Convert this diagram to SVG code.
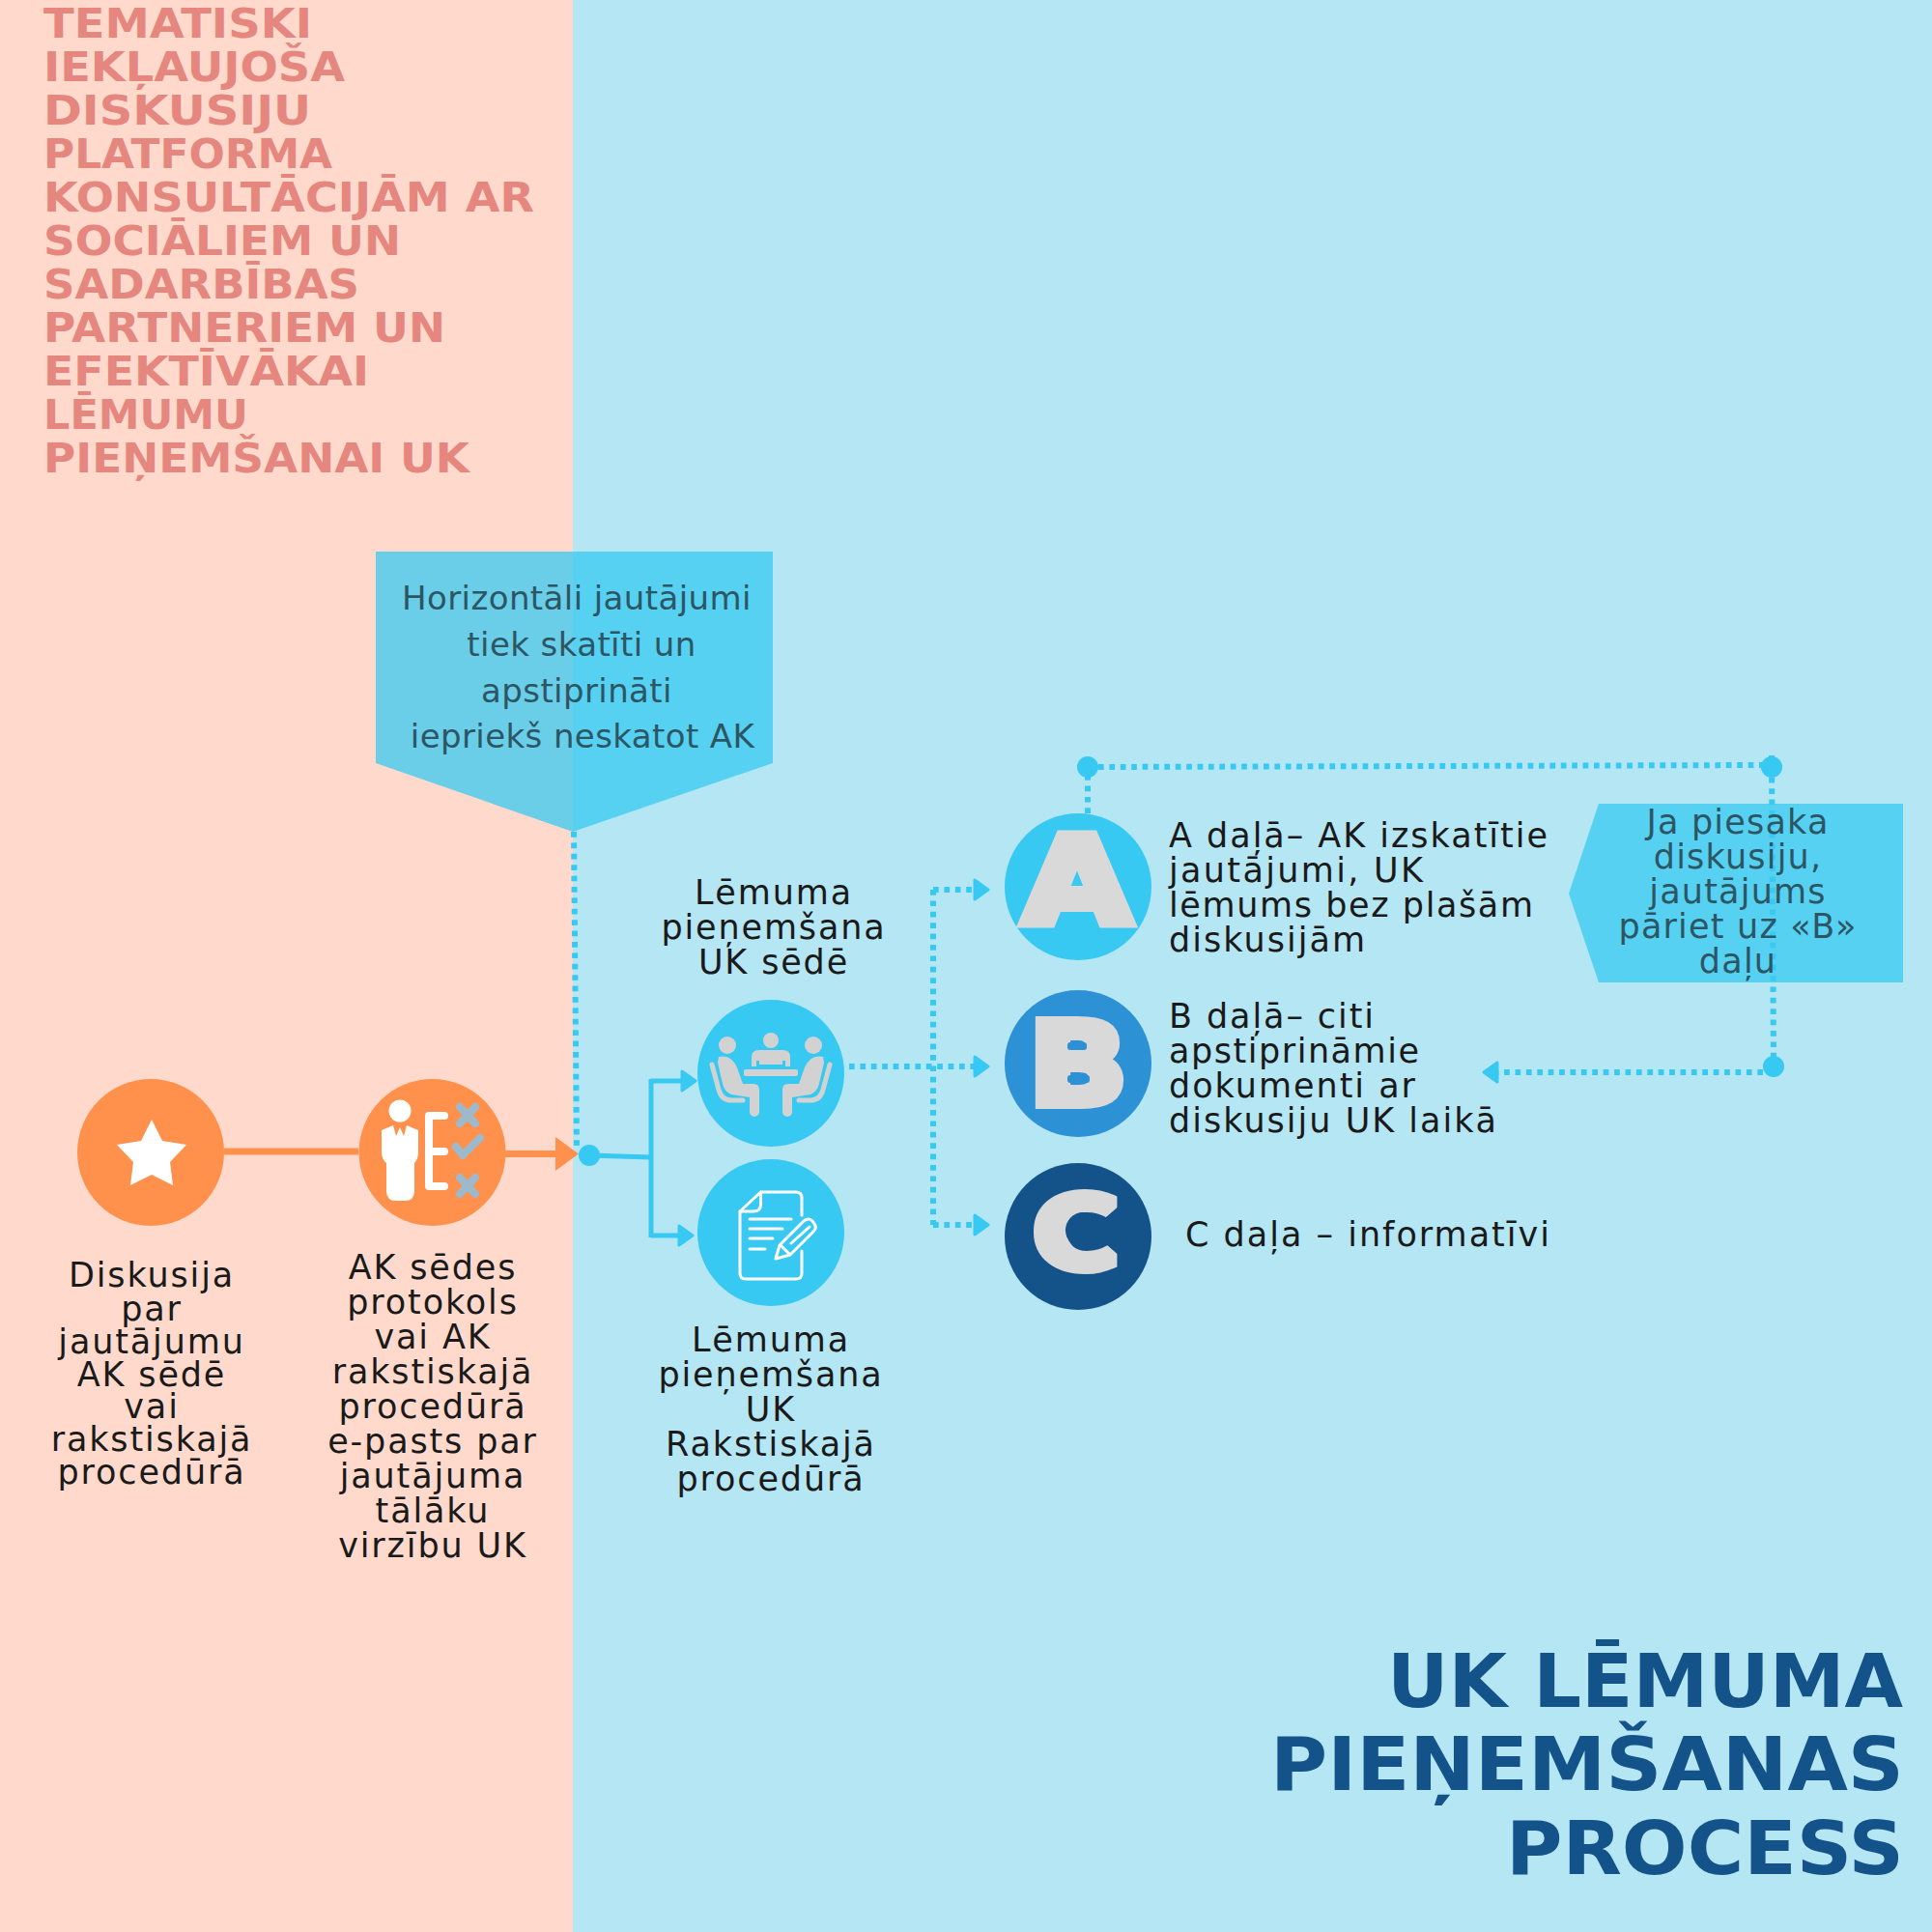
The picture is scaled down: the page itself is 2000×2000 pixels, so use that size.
<svg xmlns="http://www.w3.org/2000/svg" width="2000" height="2000" viewBox="0 0 2000 2000">
<style>
text{font-family:"DejaVu Sans","Liberation Sans",sans-serif}
.lbl{font-size:35px;letter-spacing:1.85px;fill:#1a1a1a;text-anchor:middle}
.side{font-size:35px;fill:#1a1a1a}
.call{font-size:34px;letter-spacing:.4px;fill:#2c5664;text-anchor:middle}
.callr{font-size:35px;letter-spacing:1.2px;fill:#2c5664;text-anchor:middle}
.ttl{font-size:43px;font-weight:700;fill:#e5877f}
.big{font-size:77px;font-weight:700;fill:#14528a}
.dot{stroke:#38c9f2;stroke-width:6;fill:none;stroke-dasharray:5.7 5.7}
.sol{stroke:#38c9f2;stroke-width:5;fill:none}
.hub{fill:#38c9f2}
.callout{fill:#38c9f2;fill-opacity:.75}
.ltr{font-weight:700;fill:#d9d9d9;stroke:#d9d9d9;stroke-linejoin:miter;text-anchor:middle}
.g{fill:#d2d2d2}
.gs{fill:none;stroke:#d2d2d2;stroke-width:5;stroke-linecap:round;stroke-linejoin:round}
.ws{fill:none;stroke:#fff;stroke-width:3;stroke-linecap:round;stroke-linejoin:round}
.xs{fill:none;stroke:#9db9cc;stroke-width:8;stroke-linecap:round;stroke-linejoin:round}
</style>
<defs>
<marker id="ah" markerUnits="userSpaceOnUse" markerWidth="22" markerHeight="28" refX="1" refY="14" orient="auto" viewBox="0 0 22 28"><path d="M2,4 L16,14 L2,24 Z" fill="#38c9f2" stroke="#38c9f2" stroke-width="3" stroke-linejoin="round"/></marker>
<marker id="ao" markerUnits="userSpaceOnUse" markerWidth="28" markerHeight="38" refX="1" refY="19" orient="auto" viewBox="0 0 28 38"><path d="M1,1.500 L25,19 L1,36.500 Z" fill="#ff914d"/></marker>
</defs>
<rect x="0" y="0" width="593" height="2000" fill="#ffdacc"/>
<rect x="593" y="0" width="1407" height="2000" fill="#b5e6f4"/>

<g id="title-left" class="ttl">
<text x="45" y="39" textLength="278" lengthAdjust="spacingAndGlyphs">TEMATISKI</text>
<text x="45" y="84" textLength="312" lengthAdjust="spacingAndGlyphs">IEKĻAUJOŠA</text>
<text x="45" y="129" textLength="277" lengthAdjust="spacingAndGlyphs">DISKUSIJU</text>
<text x="45" y="174" textLength="299" lengthAdjust="spacingAndGlyphs">PLATFORMA</text>
<text x="45" y="219" textLength="508" lengthAdjust="spacingAndGlyphs">KONSULTĀCIJĀM AR</text>
<text x="45" y="264" textLength="370" lengthAdjust="spacingAndGlyphs">SOCIĀLIEM UN</text>
<text x="45" y="309" textLength="327" lengthAdjust="spacingAndGlyphs">SADARBĪBAS</text>
<text x="45" y="354" textLength="416" lengthAdjust="spacingAndGlyphs">PARTNERIEM UN</text>
<text x="45" y="399" textLength="337" lengthAdjust="spacingAndGlyphs">EFEKTĪVĀKAI</text>
<text x="45" y="444" textLength="212" lengthAdjust="spacingAndGlyphs">LĒMUMU</text>
<text x="45" y="489" textLength="441" lengthAdjust="spacingAndGlyphs">PIEŅEMŠANAI UK</text>
</g>

<g id="connectors">
<path d="M232,1192H371" stroke="#ff914d" stroke-width="7" fill="none"/>
<path d="M523,1194.500H575" stroke="#ff914d" stroke-width="7" fill="none" marker-end="url(#ao)"/>
<path class="dot" d="M594,861L597,1190"/>
<circle class="hub" cx="610" cy="1196" r="11"/>
<path class="sol" d="M610,1196L674,1198"/>
<path class="sol" d="M674,1117V1281"/>
<path class="sol" d="M674,1119H705" marker-end="url(#ah)"/>
<path class="sol" d="M674,1279H702" marker-end="url(#ah)"/>
<path class="dot" d="M879,1104H1008" marker-end="url(#ah)"/>
<path class="dot" d="M966,921V1268"/>
<path class="dot" d="M966,921H1008" marker-end="url(#ah)"/>
<path class="dot" d="M966,1268H1008" marker-end="url(#ah)"/>
<path class="dot" d="M1126,842V800"/>
<circle class="hub" cx="1126" cy="794" r="11"/>
<path class="dot" d="M1137,794L1824,792"/>
<path class="dot" d="M1834,782L1836,1100"/>
<circle class="hub" cx="1834" cy="794" r="11"/>
<circle class="hub" cx="1836" cy="1104" r="11"/>
<path class="dot" d="M1825,1110H1551" marker-end="url(#ah)"/>
</g>

<g id="callout-left">
<polygon class="callout" points="389,571 800,571 800,790 593,861 389,790"/>
<text class="call" x="597" y="631">Horizontāli jautājumi</text>
<text class="call" x="602" y="679">tiek skatīti un</text>
<text class="call" x="597" y="727">apstiprināti</text>
<text class="call" x="603" y="774">iepriekš neskatot AK</text>
</g>

<g id="callout-right">
<polygon class="callout" points="1655,832 1970,832 1970,1017 1655,1017 1624,925"/>
<text class="callr" x="1799" y="863">Ja piesaka</text>
<text class="callr" x="1799" y="899">diskusiju,</text>
<text class="callr" x="1799" y="935">jautājums</text>
<text class="callr" x="1799" y="971">pāriet uz «B»</text>
<text class="callr" x="1799" y="1007">daļu</text>
</g>

<g id="node-diskusija">
<circle cx="156" cy="1193" r="76" fill="#ff914d"/>
<polygon fill="#fff" points="157,1159 168,1181 193,1185 176,1203 179,1227 157,1216 135,1227 138,1203 121,1185 146,1181"/>
<text class="lbl" x="157" y="1332">Diskusija</text>
<text class="lbl" x="157" y="1367">par</text>
<text class="lbl" x="157" y="1401">jautājumu</text>
<text class="lbl" x="157" y="1435">AK sēdē</text>
<text class="lbl" x="157" y="1468">vai</text>
<text class="lbl" x="157" y="1502">rakstiskajā</text>
<text class="lbl" x="157" y="1536">procedūrā</text>
</g>

<g id="node-protokols">
<circle cx="447.500" cy="1193" r="76" fill="#ff914d"/>
<circle cx="414" cy="1150" r="11.500" fill="#fff"/>
<path fill="#fff" d="M407,1165L395,1170V1192Q395,1200 400,1204V1233Q400,1243 410,1243H419Q429,1243 429,1233V1204Q433,1200 433,1192V1170L421,1165L418,1176L414,1167L410,1176Z"/>
<path fill="none" stroke="#fff" stroke-width="8" stroke-linejoin="round" stroke-linecap="round" d="M460,1155H444V1228H460M444,1192H460"/>
<path class="xs" d="M476,1146L492,1163M492,1146L476,1163M476,1219L492,1236M492,1219L476,1236"/>
<path class="xs" d="M472,1187L479,1196L497,1178" stroke-width="7"/>
<text class="lbl" x="448" y="1324">AK sēdes</text>
<text class="lbl" x="448" y="1360">protokols</text>
<text class="lbl" x="448" y="1396">vai AK</text>
<text class="lbl" x="448" y="1432">rakstiskajā</text>
<text class="lbl" x="448" y="1468">procedūrā</text>
<text class="lbl" x="448" y="1504">e-pasts par</text>
<text class="lbl" x="448" y="1540">jautājuma</text>
<text class="lbl" x="448" y="1576">tālāku</text>
<text class="lbl" x="448" y="1612">virzību UK</text>
</g>

<g id="node-sede">
<circle cx="798" cy="1111" r="76" fill="#38c9f2"/>
<circle class="g" cx="753" cy="1082" r="9"/>
<circle class="g" cx="798" cy="1077" r="8"/>
<circle class="g" cx="842" cy="1082" r="9"/>
<path class="g" d="M778,1104V1094Q778,1087 786,1087H810Q818,1087 818,1094V1104H813V1098H810V1102H786V1098H783V1104Z"/>
<rect class="g" x="770" y="1107" width="56" height="7" rx="2"/>
<g id="sede-left">
<path class="g" d="M744,1094Q757,1091 763,1105L769,1122H780Q786,1122 786,1128V1151A5,5 0 0 1 776,1151V1136L757,1133Q750,1130 748,1122L743,1100Z"/>
<path class="gs" d="M737,1102L744,1128Q747,1139 757,1139H769"/>
</g>
<g transform="translate(1596,0) scale(-1,1)">
<path class="g" d="M744,1094Q757,1091 763,1105L769,1122H780Q786,1122 786,1128V1151A5,5 0 0 1 776,1151V1136L757,1133Q750,1130 748,1122L743,1100Z"/>
<path class="gs" d="M737,1102L744,1128Q747,1139 757,1139H769"/>
</g>
<text class="lbl" x="801" y="936">Lēmuma</text>
<text class="lbl" x="801" y="972">pieņemšana</text>
<text class="lbl" x="801" y="1008">UK sēdē</text>
</g>

<g id="node-rakstiska">
<circle cx="798" cy="1276" r="76" fill="#38c9f2"/>
<path class="ws" d="M830,1258V1240Q830,1234 824,1234H787.500L766,1254V1318Q766,1324 772,1324H824Q830,1324 830,1318V1295"/>
<path class="ws" d="M787.500,1234V1247Q787.500,1254 780,1254H766"/>
<path class="ws" d="M776,1262H819M776,1272H810M776,1282H800M776,1293H792"/>
<path class="ws" d="M803,1303L807,1289L832,1264Q837,1260 841,1264L843,1267Q846,1271 842,1275L818,1299Z"/>
<path class="ws" d="M808,1289L817,1298M819,1287L838,1270"/>
<text class="lbl" x="798" y="1399">Lēmuma</text>
<text class="lbl" x="798" y="1435">pieņemšana</text>
<text class="lbl" x="798" y="1471">UK</text>
<text class="lbl" x="798" y="1507">Rakstiskajā</text>
<text class="lbl" x="798" y="1543">procedūrā</text>
</g>

<g id="node-a">
<circle cx="1116" cy="918" r="76" fill="#38c9f2"/>
<text class="ltr" transform="translate(1115,956) scale(1.16,1)" font-size="124" stroke-width="10">A</text>
<text class="side" x="1210" y="877" textLength="392">A daļā– AK izskatītie</text>
<text class="side" x="1210" y="913" textLength="263">jautājumi, UK</text>
<text class="side" x="1210" y="949" textLength="377">lēmums bez plašām</text>
<text class="side" x="1210" y="985" textLength="203">diskusijām</text>
</g>

<g id="node-b">
<circle cx="1116" cy="1101" r="76" fill="#2d91d6"/>
<text class="ltr" transform="translate(1116,1143) scale(1.13,1)" font-size="118" stroke-width="10">B</text>
<rect x="1105" y="1079" width="20" height="8" rx="3" fill="#2d91d6"/>
<rect x="1105" y="1113" width="23" height="8" rx="3" fill="#2d91d6"/>
<text class="side" x="1210" y="1064" textLength="212">B daļā– citi</text>
<text class="side" x="1210" y="1100" textLength="259">apstiprināmie</text>
<text class="side" x="1210" y="1136" textLength="255">dokumenti ar</text>
<text class="side" x="1210" y="1172" textLength="339">diskusiju UK laikā</text>
</g>

<g id="node-c">
<circle cx="1116" cy="1280" r="76" fill="#14528a"/>
<text class="ltr" transform="translate(1114,1313) scale(1.16,1)" font-size="104" stroke-width="10">C</text>
<ellipse cx="1121" cy="1273.500" rx="18" ry="18.500" fill="#14528a"/>
<polygon points="1138,1266 1160,1247 1175,1240 1175,1308 1160,1301 1138,1282 1128,1274" fill="#14528a"/>
<text class="side" x="1227" y="1290" textLength="377">C daļa – informatīvi</text>
</g>

<g id="title-right" class="big">
<text x="1436" y="1767" textLength="534" lengthAdjust="spacingAndGlyphs">UK LĒMUMA</text>
<text x="1315" y="1853" textLength="656" lengthAdjust="spacingAndGlyphs">PIEŅEMŠANAS</text>
<text x="1559" y="1940" textLength="412" lengthAdjust="spacingAndGlyphs">PROCESS</text>
</g>
</svg>
